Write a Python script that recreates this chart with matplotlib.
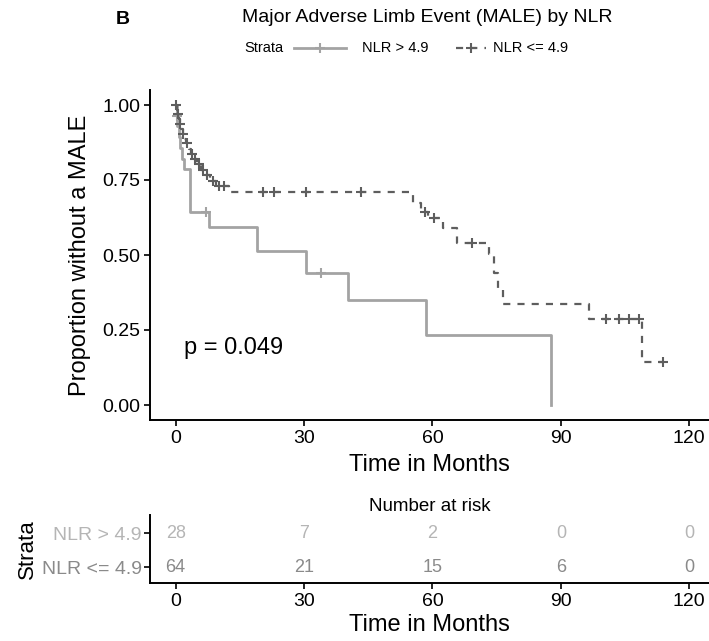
import numpy as np
import matplotlib
matplotlib.use("Agg")
import matplotlib.pyplot as plt
from matplotlib.lines import Line2D

plt.rcParams["font.family"] = ["Liberation Sans", "DejaVu Sans"]

# Kaplan-Meier steps
hi_time = [0, 0.2, 0.4, 0.7, 1.0, 1.4, 2.0, 3.3, 7.7, 19.1, 30.4, 40.2, 58.4, 87.6]
hi_surv = [1.0, 0.964, 0.929, 0.893, 0.857, 0.821, 0.786, 0.645, 0.595, 0.515,
           0.44, 0.35, 0.235, 0.0]
hi_cens = [0.3, 7.0, 34.0]

lo_time = [0, 0.3, 0.5, 0.8, 1.0, 1.3, 1.6, 2.0, 2.4, 3.0, 3.5, 4.2, 5.0, 5.8,
           6.8, 8.0, 9.5, 12.4, 55.5, 57.2, 59.0, 62.4, 65.8, 73.2, 74.3, 75.3,
           76.4, 96.5, 109.0, 113.8]
lo_surv = [1.0, 0.984, 0.969, 0.953, 0.937, 0.921, 0.905, 0.888, 0.872, 0.855,
           0.838, 0.821, 0.803, 0.785, 0.767, 0.748, 0.729, 0.709, 0.675, 0.645,
           0.622, 0.59, 0.54, 0.505, 0.44, 0.39, 0.338, 0.288, 0.144, 0.144]
lo_cens = [0.1, 0.6, 1.1, 1.8, 2.7, 3.8, 4.5, 5.4, 6.3, 7.4, 8.7, 10.2, 11.3,
           20.3, 22.9, 30.4, 43.2, 58.2, 60.3, 69.2, 100.5, 103.5, 105.8,
           108.3, 113.8]

risk_times = [0, 30, 60, 90, 120]
risk_hi = [28, 7, 2, 0, 0]
risk_lo = [64, 21, 15, 6, 0]
strata = ["NLR > 4.9", "NLR <= 4.9"]

col_hi = "#a3a3a3"
col_lo = "#5e5e5e"
txt_hi = "#b5b5b5"
txt_lo = "#8a8a8a"


def surv_at(times, surv, t):
    i = np.searchsorted(times, t, side="right") - 1
    return np.asarray(surv)[i]


fig = plt.figure(figsize=(7.09, 6.41), dpi=100)

# main KM panel
ax = fig.add_axes([150 / 709, 1 - 420 / 641, 559 / 709, 330 / 641])
ax.step(hi_time, hi_surv, where="post", color=col_hi, lw=2.0)
ax.step(lo_time, lo_surv, where="post", color=col_lo, lw=1.6,
        linestyle=(0, (3.2, 3.2)))
ax.plot(hi_cens, surv_at(hi_time, hi_surv, hi_cens), ls="none", marker="+",
        ms=7, mew=1.5, color=col_hi)
ax.plot(lo_cens, surv_at(lo_time, lo_surv, lo_cens), ls="none", marker="+",
        ms=7, mew=1.5, color=col_lo)

ax.set_xlim(-6, 124.6)
ax.set_ylim(-0.05, 1.05)
ax.set_xticks(risk_times)
ax.set_yticks([0, 0.25, 0.5, 0.75, 1.0])
ax.set_yticklabels(["0.00", "0.25", "0.50", "0.75", "1.00"])
for s in ["top", "right"]:
    ax.spines[s].set_visible(False)
for s in ["left", "bottom"]:
    ax.spines[s].set_linewidth(1.4)
ax.tick_params(labelsize=14, length=4, width=1.2, pad=3)
ax.set_xlabel("Time in Months", fontsize=17, labelpad=5)
ax.set_ylabel("Proportion without a MALE", fontsize=17, labelpad=8)
ax.text(13.5, 0.19, "p = 0.049", fontsize=17, ha="center", va="center")

# title, panel letter, legend
fig.text(427 / 709, 1 - 18 / 641, "Major Adverse Limb Event (MALE) by NLR",
         fontsize=14, ha="center", va="center")
fig.text(123 / 709, 1 - 19 / 641, "B", fontsize=14, fontweight="bold",
         ha="center", va="center")
ly = 1 - 48 / 641
fig.text(244 / 709, ly, "Strata", fontsize=10.5, ha="left", va="center")
fig.add_artist(Line2D([294 / 709, 346 / 709], [ly, ly], color=col_hi, lw=2.0))
fig.add_artist(Line2D([320 / 709], [ly], color=col_hi, marker="+", ms=7, mew=1.5))
fig.text(362 / 709, ly, strata[0], fontsize=10.5, ha="left", va="center")
fig.add_artist(Line2D([456 / 709, 486 / 709], [ly, ly], color=col_lo, lw=1.6,
                      linestyle=(0, (3.2, 3.2))))
fig.add_artist(Line2D([471 / 709], [ly], color=col_lo, marker="+", ms=7, mew=1.5))
fig.text(493 / 709, ly, strata[1], fontsize=10.5, ha="left", va="center")

# risk table
rx = fig.add_axes([150 / 709, 1 - 583 / 641, 559 / 709, 68 / 641])
for t, n in zip(risk_times, risk_hi):
    rx.text(t, 2, str(n), color=txt_hi, fontsize=13, ha="center", va="center")
for t, n in zip(risk_times, risk_lo):
    rx.text(t, 1, str(n), color=txt_lo, fontsize=13, ha="center", va="center")
rx.set_xlim(-6, 124.6)
rx.set_ylim(0.53, 2.53)
rx.set_xticks(risk_times)
rx.set_yticks([2, 1])
rx.set_yticklabels(strata)
for lab, c in zip(rx.get_yticklabels(), [txt_hi, txt_lo]):
    lab.set_color(c)
for s in ["top", "right"]:
    rx.spines[s].set_visible(False)
for s in ["left", "bottom"]:
    rx.spines[s].set_linewidth(1.4)
rx.tick_params(axis="x", labelsize=14, length=4, width=1.2, pad=3)
rx.tick_params(axis="y", labelsize=14, length=4, width=1.2, pad=2)
rx.set_xlabel("Time in Months", fontsize=17, labelpad=3)
rx.set_ylabel("Strata", fontsize=16, labelpad=3)
rx.set_title("Number at risk", fontsize=13.5, pad=1)

fig.savefig("out.png", dpi=100)
